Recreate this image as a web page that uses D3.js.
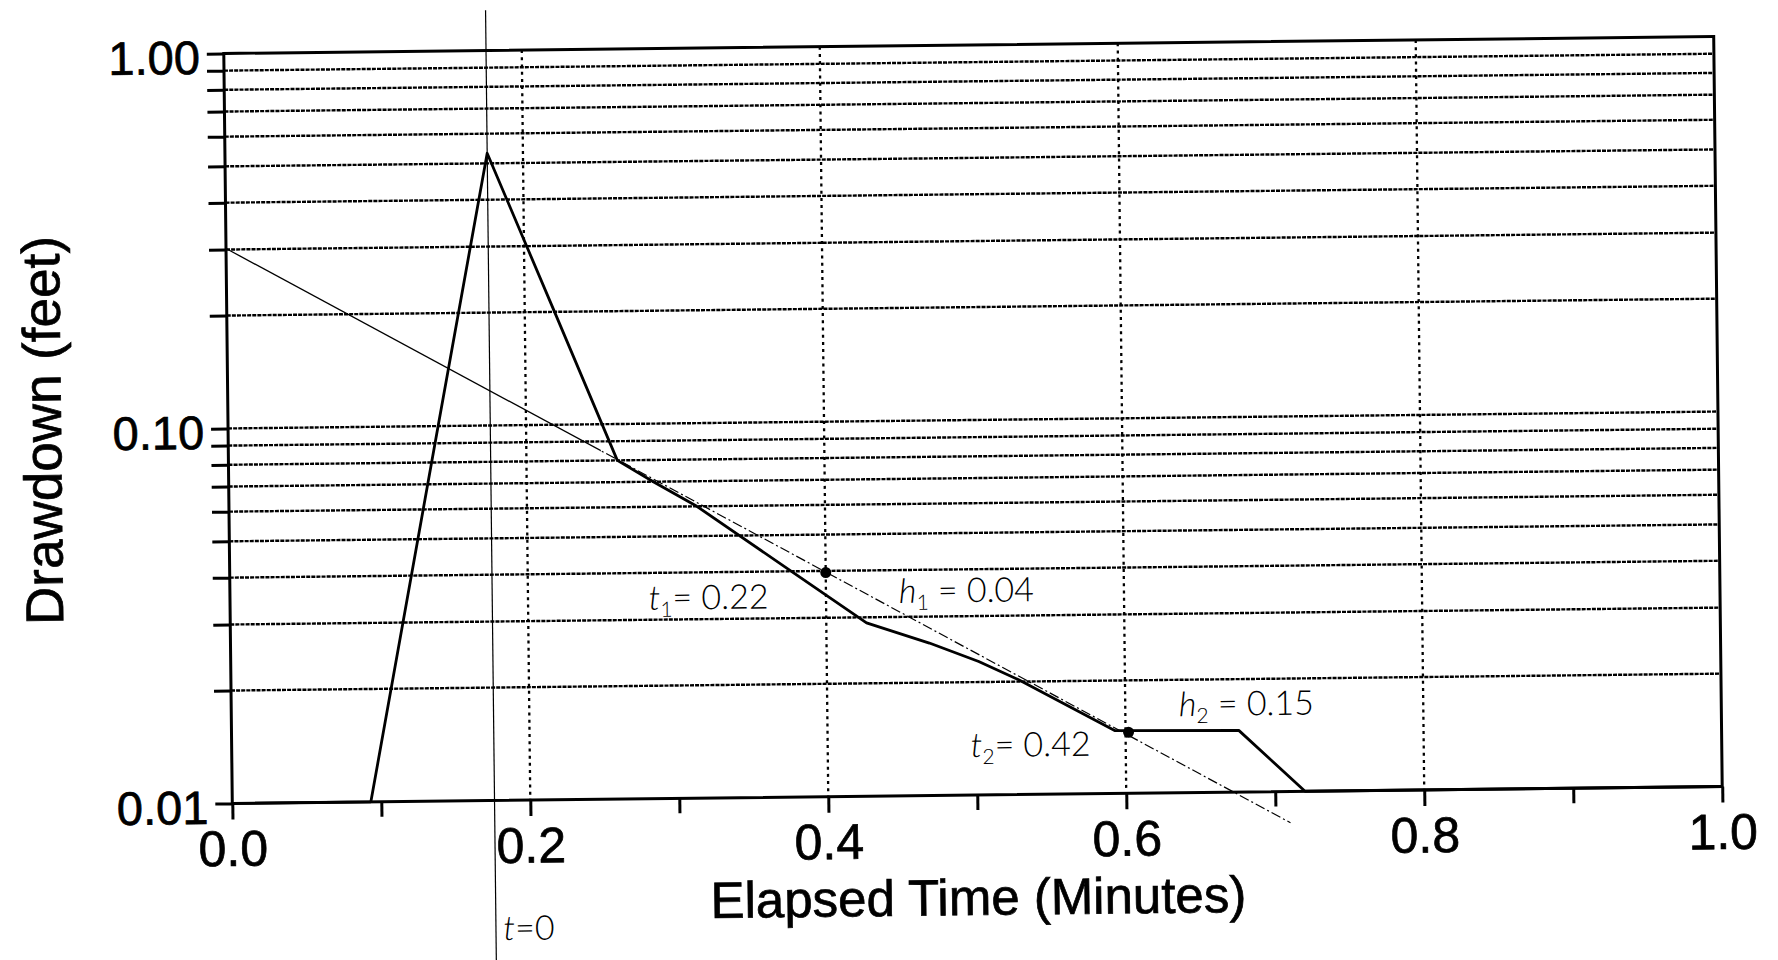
<!DOCTYPE html>
<html><head><meta charset="utf-8">
<script src="https://cdn.jsdelivr.net/npm/d3@7"></script>
<style>html,body{margin:0;padding:0;background:#fff;overflow:hidden}</style>
</head><body>
<svg id="c" width="1778" height="960" xmlns="http://www.w3.org/2000/svg"></svg>
<script>
// ---------- data ----------
const xTickValues = [0, 0.2, 0.4, 0.6, 0.8, 1.0];
const xTickLabels = ["0.0", "0.2", "0.4", "0.6", "0.8", "1.0"];
const xMinorTicks = [0.1, 0.3, 0.5, 0.7, 0.9];
const xGridValues = [0.2, 0.4, 0.6, 0.8];
const yTickValues = [1, 0.1, 0.01];
const yTickLabels = ["1.00", "0.10", "0.01"];
const yMinorTicks = [0.9, 0.8, 0.7, 0.6, 0.5, 0.4, 0.3, 0.2, 0.09, 0.08, 0.07, 0.06, 0.05, 0.04, 0.03, 0.02];
const yGridValues = [0.9, 0.8, 0.7, 0.6, 0.5, 0.4, 0.3, 0.2, 0.1, 0.09, 0.08, 0.07, 0.06, 0.05, 0.04, 0.03, 0.02];

// measured drawdown curve (elapsed time in minutes, drawdown in feet)
const curveTime     = [0.000, 0.093, 0.141, 0.176, 0.220, 0.261, 0.285, 0.314, 0.377, 0.427, 0.469, 0.502, 0.529, 0.593, 0.676, 0.720, 1.000];
const curveDrawdown = [0.010, 0.010, 0.100, 0.532, 0.200, 0.080, 0.070, 0.060, 0.040, 0.029, 0.0255, 0.0227, 0.0202, 0.0147, 0.0146, 0.010, 0.010];

// straight-line fit
const fitTime     = [0.000, 0.710];
const fitDrawdown = [0.302, 0.00825];
const fitSolidUntil = 0.25;

// picked points
const markerTime     = [0.400, 0.602];
const markerDrawdown = [0.0396, 0.01454];

// t = 0 reference line
const t0Time = 0.176;
const t0Extent = [1.28, 0.001];

// hand-written notes: label parts and anchor (time, drawdown)
const noteBase = ["t", "h", "t", "h", "t"];
const noteSub  = ["1", "1", "2", "2", ""];
const noteRest = ["= 0.22", " = 0.04", "= 0.42", " = 0.15", "=0"];
const noteTime = [0.281, 0.449, 0.496, 0.636, 0.181];
const noteDrawdown = [0.0319, 0.0327, 0.01263, 0.0160, 0.00424];

// ---------- chart ----------
const W = 1490, H = 750;
const FONT = "'Liberation Sans', Arial, Helvetica, sans-serif";
const svg = d3.select("#c");
svg.append("rect").attr("width", 1778).attr("height", 960).attr("fill", "#fff");
const root = svg.append("g").attr("transform", "rotate(-0.65,973,420)");
const g = root.append("g").attr("transform", "translate(228,45)");

const x = d3.scaleLinear().domain([0, 1]).range([0, W]);
const y = d3.scaleLog().domain([0.01, 1]).range([H, 0]);

// grid
g.append("g").selectAll("line").data(yGridValues).join("line")
  .attr("x1", 0).attr("x2", W)
  .attr("y1", d => y(d)).attr("y2", d => y(d))
  .attr("stroke", "#000").attr("stroke-width", 2.4).attr("stroke-dasharray", "4,1.1");
g.append("g").selectAll("line").data(xGridValues).join("line")
  .attr("x1", d => x(d)).attr("x2", d => x(d))
  .attr("y1", y(1)).attr("y2", y(0.01))
  .attr("stroke", "#000").attr("stroke-width", 2.3).attr("stroke-dasharray", "3,4.2");

// axes
function styleAxis(sel, fs) {
  sel.select(".domain").remove();
  sel.selectAll(".tick line").attr("stroke", "#000").attr("stroke-width", 3);
  sel.selectAll(".tick text").attr("fill", "#000").attr("stroke", "#000").attr("stroke-width", 0.7)
    .style("font-family", FONT).style("font-size", fs + "px");
}
const yAxis = g.append("g").call(
  d3.axisLeft(y).tickValues(yTickValues).tickFormat((d, i) => yTickLabels[i]).tickSize(17).tickPadding(7));
styleAxis(yAxis, 47);
yAxis.selectAll(".tick text").attr("dy", "0.42em");
const yMinor = g.append("g").call(d3.axisLeft(y).tickValues(yMinorTicks).tickFormat("").tickSize(17));
styleAxis(yMinor, 10);

const xAxis = g.append("g").attr("transform", `translate(0,${H})`).call(
  d3.axisBottom(x).tickValues(xTickValues).tickFormat((d, i) => xTickLabels[i]).tickSize(16).tickPadding(11));
styleAxis(xAxis, 50);
const xMinor = g.append("g").attr("transform", `translate(0,${H})`).call(
  d3.axisBottom(x).tickValues(xMinorTicks).tickFormat("").tickSize(15));
styleAxis(xMinor, 10);

// frame
g.append("rect").attr("x", 0).attr("y", 0).attr("width", W).attr("height", H)
  .attr("fill", "none").attr("stroke", "#000").attr("stroke-width", 3);

// axis titles
g.append("text").attr("x", W / 2).attr("y", H + 120).attr("text-anchor", "middle")
  .attr("stroke", "#000").attr("stroke-width", 0.7)
  .style("font-family", FONT).style("font-size", "51px")
  .text("Elapsed Time (Minutes)");
g.append("text").attr("transform", `translate(-167,${H / 2}) rotate(-90)`).attr("text-anchor", "middle")
  .attr("stroke", "#000").attr("stroke-width", 0.7)
  .style("font-family", FONT).style("font-size", "53px")
  .text("Drawdown (feet)");

// t=0 line
g.append("line").attr("x1", x(t0Time)).attr("x2", x(t0Time))
  .attr("y1", y(t0Extent[0])).attr("y2", y(t0Extent[1]))
  .attr("stroke", "#000").attr("stroke-width", 1.2);

// fit line (solid start, dash-dot after)
const defs = svg.append("defs");
defs.append("clipPath").attr("id", "clipA").append("rect")
  .attr("x", -50).attr("y", -100).attr("width", x(fitSolidUntil) + 50).attr("height", H + 300);
defs.append("clipPath").attr("id", "clipB").append("rect")
  .attr("x", x(fitSolidUntil)).attr("y", -100).attr("width", W).attr("height", H + 300);
const fitData = fitTime.map((t, i) => [t, fitDrawdown[i]]);
const line = d3.line().x(d => x(d[0])).y(d => y(d[1]));
g.append("path").datum(fitData).attr("d", line).attr("clip-path", "url(#clipA)")
  .attr("fill", "none").attr("stroke", "#000").attr("stroke-width", 1.3);
g.append("path").datum(fitData).attr("d", line).attr("clip-path", "url(#clipB)")
  .attr("fill", "none").attr("stroke", "#000").attr("stroke-width", 1.2)
  .attr("stroke-dasharray", "10,3,2,3");

// measured curve
const curveData = curveTime.map((t, i) => [t, curveDrawdown[i]]);
g.append("path").datum(curveData).attr("d", line)
  .attr("fill", "none").attr("stroke", "#000").attr("stroke-width", 2.8).attr("stroke-linejoin", "round");

// markers
g.append("g").selectAll("circle").data(markerTime).join("circle")
  .attr("cx", d => x(d)).attr("cy", (d, i) => y(markerDrawdown[i])).attr("r", 5.5).attr("fill", "#000");

// notes
const notes = g.append("g").style("font-family", "Lato, 'Open Sans', sans-serif")
  .style("font-weight", 300).style("font-size", "34px").attr("fill", "#000");
noteBase.forEach((b, i) => {
  const t = notes.append("text").attr("x", x(noteTime[i])).attr("y", y(noteDrawdown[i]));
  t.append("tspan").style("font-style", "italic").text(b);
  if (noteSub[i]) {
    t.append("tspan").attr("dy", 7).style("font-size", "21px").text(noteSub[i]);
    t.append("tspan").attr("dy", -7).text(noteRest[i]);
  } else {
    t.append("tspan").text(noteRest[i]);
  }
});
</script>
</body></html>
